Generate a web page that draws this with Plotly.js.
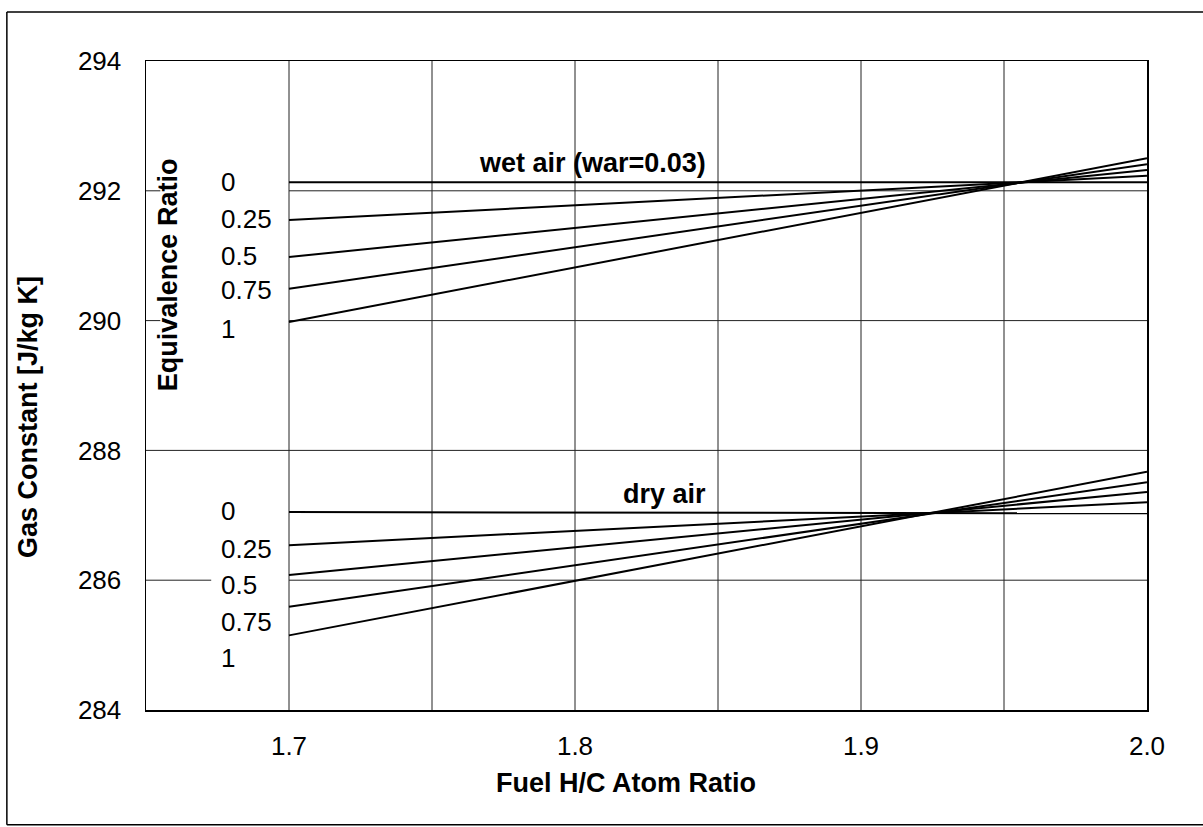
<!DOCTYPE html>
<html>
<head>
<meta charset="utf-8">
<script src="https://cdn.plot.ly/plotly-3.0.1.min.js"></script>
<style>html,body{margin:0;padding:0;background:#fff;}#chart{width:1203px;height:827px;}</style>
</head>
<body>
<div id="chart"></div>
<script>
// ---- data ----
const equivalenceRatios = [0, 0.25, 0.5, 0.75, 1];
const equivalenceLabels = ["0", "0.25", "0.5", "0.75", "1"];
const fuelHC = [1.7, 2.0];
const wetAirAt17 = [292.13, 291.55, 290.98, 290.49, 289.98];
const wetAirAt20 = [292.13, 292.23, 292.32, 292.41, 292.50];
const dryAirAt17 = [287.05, 286.54, 286.08, 285.59, 285.15];
const dryAirAt20 = [287.03, 287.20, 287.36, 287.51, 287.67];
const xTickValues = [1.7, 1.8, 1.9, 2.0];
const xTickLabels = ["1.7", "1.8", "1.9", "2.0"];
const yTickValues = [284, 286, 288, 290, 292, 294];
const yTickLabels = ["284", "286", "288", "290", "292", "294"];
const xGridValues = [1.7, 1.75, 1.8, 1.85, 1.9, 1.95];

// ---- layout constants ----
const FONT = "Liberation Sans, Arial, Helvetica, sans-serif";
const xMin = 1.65, xMax = 2.0, yMin = 284, yMax = 294;
const wetLabelY = [292.14, 291.57, 291.00, 290.47, 289.87];
const dryLabelY = [287.06, 286.48, 285.93, 285.36, 284.80];
const labelX = 1.6756;

const traces = [];
equivalenceRatios.forEach((phi, i) => {
  traces.push({x: fuelHC, y: [wetAirAt17[i], wetAirAt20[i]], mode: "lines",
    line: {color: "#000", width: 2}, name: "wet phi=" + phi, showlegend: false, hoverinfo: "skip"});
  traces.push({x: fuelHC, y: [dryAirAt17[i], dryAirAt20[i]], mode: "lines",
    line: {color: "#000", width: 2}, name: "dry phi=" + phi, showlegend: false, hoverinfo: "skip"});
});

const gridLine = {color: "#222", width: 1};
const shapes = [];
xGridValues.forEach(v => shapes.push({type: "line", xref: "x", yref: "y", x0: v, x1: v, y0: yMin, y1: yMax, line: gridLine, layer: "below"}));
// horizontal grid
shapes.push({type: "line", xref: "x", yref: "y", x0: 1.7, x1: xMax, y0: 292, y1: 292, line: gridLine, layer: "below"});
shapes.push({type: "line", xref: "x", yref: "y", x0: xMin, x1: 1.655, y0: 292, y1: 292, line: gridLine, layer: "below"});
shapes.push({type: "line", xref: "x", yref: "y", x0: 1.7, x1: xMax, y0: 290, y1: 290, line: gridLine, layer: "below"});
shapes.push({type: "line", xref: "x", yref: "y", x0: xMin - 0.001, x1: 1.655, y0: 290, y1: 290, line: gridLine, layer: "below"});
shapes.push({type: "line", xref: "x", yref: "y", x0: xMin, x1: xMax, y0: 288, y1: 288, line: gridLine, layer: "below"});
shapes.push({type: "line", xref: "x", yref: "y", x0: 1.7, x1: xMax, y0: 286, y1: 286, line: gridLine, layer: "below"});
shapes.push({type: "line", xref: "x", yref: "y", x0: xMin, x1: 1.6728, y0: 286, y1: 286, line: gridLine, layer: "below"});
// outer frame (left, top, bottom)
shapes.push({type: "line", xref: "paper", yref: "paper", x0: -0.139, x1: -0.139, y0: -0.177, y1: 1.0755, line: {color: "#000", width: 1.5}});
shapes.push({type: "line", xref: "paper", yref: "paper", x0: -0.139, x1: 1.06, y0: 1.0755, y1: 1.0755, line: {color: "#000", width: 1.5}});
shapes.push({type: "line", xref: "paper", yref: "paper", x0: -0.139, x1: 1.06, y0: -0.177, y1: -0.177, line: {color: "#000", width: 1.5}});

const annotations = [];
equivalenceLabels.forEach((t, i) => {
  annotations.push({x: labelX, y: wetLabelY[i], xref: "x", yref: "y", text: t, showarrow: false, xanchor: "left", yanchor: "middle", font: {family: FONT, size: 26, color: "#000"}});
  annotations.push({x: labelX, y: dryLabelY[i], xref: "x", yref: "y", text: t, showarrow: false, xanchor: "left", yanchor: "middle", font: {family: FONT, size: 26, color: "#000"}});
});
annotations.push({x: 1.6577, y: 290.70, xref: "x", yref: "y", text: "<b>Equivalence Ratio</b>", textangle: -90, showarrow: false, xanchor: "center", yanchor: "middle", font: {family: FONT, size: 27, color: "#000"}});
annotations.push({x: 1.806, y: 292.43, xref: "x", yref: "y", text: "<b>wet air (war=0.03)</b>", showarrow: false, xanchor: "center", yanchor: "middle", font: {family: FONT, size: 27, color: "#000"}});
annotations.push({x: 1.8313, y: 287.33, xref: "x", yref: "y", text: "<b>dry air</b>", showarrow: false, xanchor: "center", yanchor: "middle", font: {family: FONT, size: 27, color: "#000"}});
// axis titles
annotations.push({x: (626 - 146) / 1001, y: (710 - 783) / 649, xref: "paper", yref: "paper", text: "<b>Fuel H/C Atom Ratio</b>", showarrow: false, xanchor: "center", yanchor: "middle", font: {family: FONT, size: 27, color: "#000"}});
annotations.push({x: (28 - 146) / 1001, y: (710 - 417) / 649, xref: "paper", yref: "paper", text: "<b>Gas Constant [J/kg K]</b>", textangle: -90, showarrow: false, xanchor: "center", yanchor: "middle", font: {family: FONT, size: 27, color: "#000"}});

const layout = {
  width: 1203, height: 827,
  margin: {l: 146, r: 56, t: 61, b: 117, pad: 0},
  paper_bgcolor: "#fff", plot_bgcolor: "#fff",
  showlegend: false,
  font: {family: FONT, color: "#000"},
  xaxis: {range: [xMin, xMax], tickvals: xTickValues, ticktext: xTickLabels, showgrid: false, zeroline: false,
    showline: true, mirror: true, linecolor: "#000", linewidth: 1.5, ticks: "", ticklabelstandoff: 12,
    tickfont: {family: FONT, size: 26, color: "#000"}, fixedrange: true},
  yaxis: {range: [yMin, yMax], tickvals: yTickValues, ticktext: yTickLabels, showgrid: false, zeroline: false,
    showline: true, mirror: true, linecolor: "#000", linewidth: 1.5, ticks: "", ticklabelstandoff: 18,
    tickfont: {family: FONT, size: 26, color: "#000"}, fixedrange: true},
  shapes: shapes,
  annotations: annotations
};

Plotly.newPlot("chart", traces, layout, {staticPlot: true, displayModeBar: false});
</script>
</body>
</html>
